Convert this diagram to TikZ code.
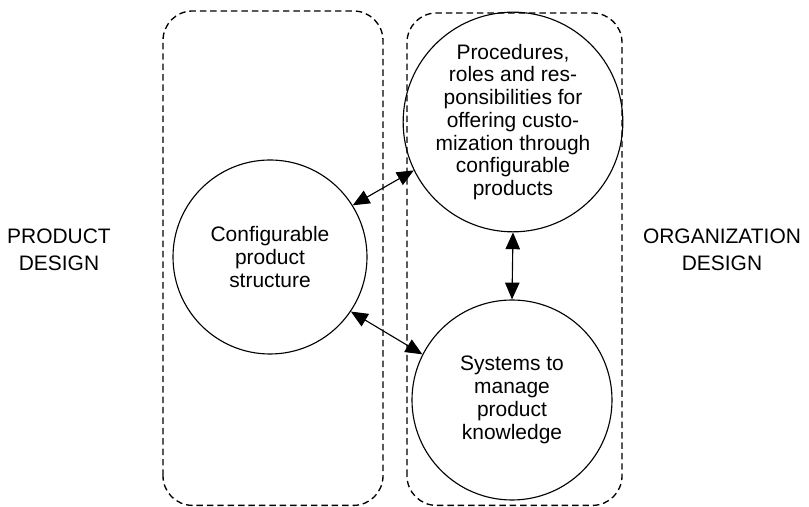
\documentclass[tikz,border=0pt]{standalone}
\usepackage{fontspec}
\setmainfont{Liberation Sans}
\usetikzlibrary{arrows.meta}

\begin{document}
\begin{tikzpicture}[
  bubble/.style={circle, draw=black, line width=0.8pt, inner sep=0pt,
    align=center, font=\fontsize{14.9}{16.2}\selectfont},
  zone/.style={draw=black, line width=0.95pt, dash pattern=on 4.6pt off 2.8pt,
    rounded corners=21pt},
  side/.style={align=center, font=\fontsize{14.9}{18.8}\selectfont},
  >={Triangle[length=4.2mm, width=3.6mm]},
  arr/.style={draw=black, line width=0.8pt, <->},
]

% Page frame
\useasboundingbox (0,0) rectangle (20.225,12.675);

% Dashed areas
\draw[zone] (4.075,0.04) rectangle (9.575,12.4);
\draw[zone] (10.175,0.04) rectangle (15.55,12.35);

% Circles
\node[bubble, minimum size=4.85cm] (cps) at (6.75,6.25)
  {Configurable\\product\\structure};
\node[bubble, minimum size=5cm] (proc) at (12.825,9.625)
  {Procedures,\\roles and res-\\ponsibilities for\\offering custo-\\mization through\\configurable\\products};
\node[bubble, minimum size=5cm] (sys) at (12.8,2.675)
  {Systems to\\manage\\product\\knowledge};

% Side titles
\node[side] (pd) at (1.475,6.425) {PRODUCT\\DESIGN};
\node[side] (od) at (18.05,6.425) {ORGANIZATION\\DESIGN};

% Links
\draw[arr] (cps.32) -- (proc.206);
\draw[arr] (cps.-34) -- (sys.153);
\draw[arr] (proc.south) -- (sys.north);
\end{tikzpicture}
\end{document}
